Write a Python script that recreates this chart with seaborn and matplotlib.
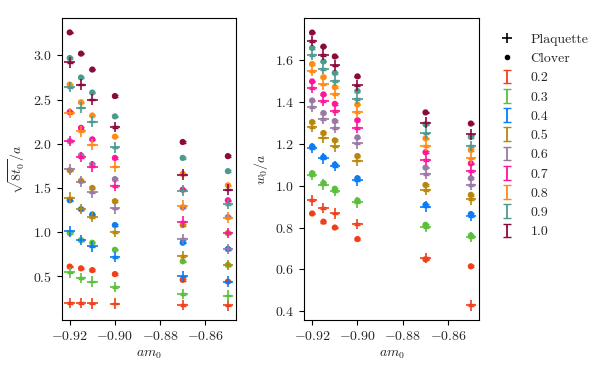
import numpy as np
import pandas as pd
import matplotlib
matplotlib.use('Agg')
import matplotlib.pyplot as plt
import seaborn as sns
from matplotlib.lines import Line2D

# bare mass values and couplings
am0 = [-0.92, -0.915, -0.91, -0.90, -0.87, -0.85]
betas = ['0.2', '0.3', '0.4', '0.5', '0.6', '0.7', '0.8', '0.9', '1.0']
colors = ['#f0401a', '#5bbf3c', '#0a7cf5', '#b8860b', '#9a78a5',
          '#ff149c', '#ff8a14', '#4c9a8e', '#8b0a3c']

# sqrt(8 t0)/a, rows = beta, cols = am0
t0_plaq = [[0.20, 0.20, 0.195, 0.19, 0.175, 0.17],
           [0.545, 0.48, 0.44, 0.38, 0.30, 0.28],
           [1.01, 0.91, 0.84, 0.72, 0.50, 0.44],
           [1.39, 1.26, 1.17, 1.00, 0.73, 0.63],
           [1.71, 1.57, 1.45, 1.27, 0.92, 0.81],
           [2.03, 1.85, 1.74, 1.52, 1.12, 0.99],
           [2.35, 2.14, 1.99, 1.74, 1.30, 1.165],
           [2.64, 2.41, 2.25, 1.96, 1.47, 1.32],
           [2.92, 2.67, 2.50, 2.19, 1.65, 1.48]]
t0_clov = [[0.61, 0.59, 0.57, 0.525, 0.46, 0.44],
           [0.99, 0.91, 0.88, 0.80, 0.67, 0.63],
           [1.36, 1.26, 1.20, 1.08, 0.88, 0.81],
           [1.70, 1.58, 1.50, 1.35, 1.08, 0.99],
           [2.03, 1.87, 1.77, 1.60, 1.28, 1.17],
           [2.36, 2.18, 2.05, 1.84, 1.48, 1.36],
           [2.67, 2.47, 2.32, 2.08, 1.66, 1.53],
           [2.97, 2.75, 2.58, 2.31, 1.84, 1.69],
           [3.26, 3.02, 2.84, 2.54, 2.02, 1.86]]

# w0/a
w0_plaq = [[0.93, 0.894, 0.867, 0.817, 0.655, 0.429],
           [1.05, 1.005, 0.975, 0.92, 0.802, 0.755],
           [1.18, 1.13, 1.094, 1.025, 0.90, 0.855],
           [1.28, 1.229, 1.187, 1.119, 0.980, 0.935],
           [1.375, 1.319, 1.275, 1.201, 1.056, 1.003],
           [1.465, 1.403, 1.356, 1.276, 1.122, 1.070],
           [1.546, 1.483, 1.438, 1.350, 1.189, 1.130],
           [1.624, 1.557, 1.50, 1.413, 1.249, 1.189],
           [1.69, 1.624, 1.573, 1.478, 1.301, 1.244]]
w0_clov = [[0.867, 0.828, 0.80, 0.745, 0.648, 0.615],
           [1.059, 1.012, 0.985, 0.929, 0.813, 0.762],
           [1.187, 1.136, 1.10, 1.035, 0.908, 0.864],
           [1.303, 1.251, 1.216, 1.141, 1.003, 0.956],
           [1.406, 1.346, 1.308, 1.230, 1.086, 1.035],
           [1.497, 1.435, 1.39, 1.312, 1.159, 1.106],
           [1.58, 1.517, 1.47, 1.387, 1.225, 1.170],
           [1.657, 1.592, 1.538, 1.451, 1.292, 1.233],
           [1.73, 1.663, 1.616, 1.521, 1.349, 1.296]]

err_t0 = 0.008
err_w0 = 0.004

sns.set_style('ticks')
plt.rcParams['font.family'] = 'serif'
plt.rcParams['font.serif'] = ['cmr10', 'DejaVu Serif']
plt.rcParams['mathtext.fontset'] = 'cm'
plt.rcParams['axes.formatter.use_mathtext'] = True
plt.rcParams['font.size'] = 10
plt.rcParams['axes.unicode_minus'] = True


def to_frame(plaq, clov):
    rows = []
    for b, pr, cr in zip(betas, plaq, clov):
        for m, p, c in zip(am0, pr, cr):
            rows.append((b, m, 'Plaquette', p))
            rows.append((b, m, 'Clover', c))
    return pd.DataFrame(rows, columns=['beta', 'am0', 'action', 'value'])


def draw(ax, df, err, ylabel):
    pal = dict(zip(betas, colors))
    for act, mk, s in [('Clover', 'o', 20), ('Plaquette', '+', 58)]:
        sub = df[df.action == act]
        for b in betas:
            d = sub[sub.beta == b]
            ax.errorbar(d.am0, d.value, yerr=err, fmt='none', ecolor=pal[b],
                        capsize=2.5, elinewidth=1, zorder=2)
        sns.scatterplot(data=sub, x='am0', y='value', hue='beta', palette=pal,
                        marker=mk, s=s, linewidth=1.2 if mk == '+' else 0,
                        legend=False, ax=ax, zorder=3)
    ax.set_xticks([-0.92, -0.90, -0.88, -0.86])
    ax.set_xlabel(r'$am_0$')
    ax.set_ylabel(ylabel)
    for sp in ax.spines.values():
        sp.set_color('black')
    ax.tick_params(direction='out', length=3.5, color='black')


fig = plt.figure(figsize=(6, 3.75), dpi=100)
ax1 = fig.add_axes([0.103, 0.147, 0.29, 0.805])
ax2 = fig.add_axes([0.507, 0.147, 0.291, 0.805])

draw(ax1, to_frame(t0_plaq, t0_clov), err_t0, r'$\sqrt{8t_0}/a$')
draw(ax2, to_frame(w0_plaq, w0_clov), err_w0, r'$w_0/a$')
ax1.set_yticks([0.5, 1.0, 1.5, 2.0, 2.5, 3.0])
ax2.set_yticks([0.4, 0.6, 0.8, 1.0, 1.2, 1.4, 1.6])

handles = [Line2D([], [], marker='+', color='black', ls='none', ms=7, mew=1.2),
           Line2D([], [], marker='o', color='black', ls='none', ms=3)]
labels = ['Plaquette', 'Clover']
for b, c in zip(betas, colors):
    h = ax2.errorbar([np.nan], [np.nan], yerr=[1], fmt='none', ecolor=c,
                     capsize=3, elinewidth=1.3)
    handles.append(h)
    labels.append(b)
fig.legend(handles, labels, loc='upper left', bbox_to_anchor=(0.81, 0.945),
           frameon=False, handlelength=1.2, labelspacing=0.47,
           handletextpad=1.1, fontsize=10)

fig.savefig('out.png', dpi=100)
